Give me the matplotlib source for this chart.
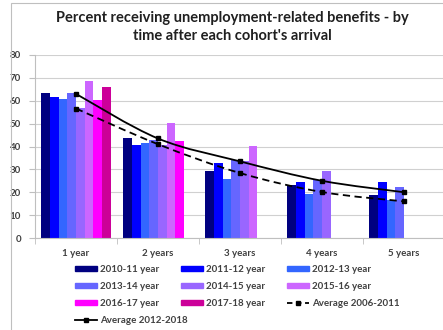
import numpy as np
import matplotlib
matplotlib.use('Agg')
import matplotlib.pyplot as plt
from matplotlib.path import Path
from matplotlib.patches import PathPatch
from matplotlib.lines import Line2D
from matplotlib.patches import Patch, Rectangle

plt.rcParams['font.family'] = ['Lato', 'DejaVu Sans']

categories = ['1 year', '2 years', '3 years', '4 years', '5 years']
cohorts = ['2010-11 year', '2011-12 year', '2012-13 year', '2013-14 year',
           '2014-15 year', '2015-16 year', '2016-17 year', '2017-18 year']
nan = np.nan
values = [
    [63.3, 43.7, 29.1, 23.0, 18.6],   # 2010-11
    [61.8, 40.7, 32.7, 24.5, 24.5],   # 2011-12
    [60.8, 41.5, 25.8, 19.2, 16.4],   # 2012-13
    [63.3, 43.0, 34.2, 25.5, 22.3],   # 2013-14
    [56.8, 40.5, 33.5, 29.4, nan],    # 2014-15
    [68.7, 50.2, 40.3, nan, nan],     # 2015-16
    [60.4, 42.4, nan, nan, nan],      # 2016-17
    [66.2, nan, nan, nan, nan],       # 2017-18
]
avg_2006_2011 = [56.6, 41.0, 28.4, 20.1, 16.0]
avg_2012_2018 = [63.0, 43.5, 33.5, 25.0, 20.0]
colors = ['#000080', '#0000FF', '#3366FF', '#6666FF',
          '#9966FF', '#CC66FF', '#FF00FF', '#CC0099']

text_col = '#404040'


def smooth_path(xs, ys):
    # Excel-style smoothed line: cubic bezier through the points
    pts = np.column_stack([xs, ys])
    n = len(pts)
    verts = [pts[0]]
    codes = [Path.MOVETO]
    for i in range(n - 1):
        p_prev = pts[i - 1] if i > 0 else pts[i]
        p_next2 = pts[i + 2] if i + 2 < n else pts[i + 1]
        c1 = pts[i] + (pts[i + 1] - p_prev) / 6
        c2 = pts[i + 1] - (p_next2 - pts[i]) / 6
        verts += [c1, c2, pts[i + 1]]
        codes += [Path.CURVE4] * 3
    return Path(verts, codes)


fig = plt.figure(figsize=(4.43, 3.30), dpi=100)
fig.patches.append(Rectangle((11 / 443, -0.1), 1.2, 327 / 330 + 0.1,
                             transform=fig.transFigure, fill=False,
                             edgecolor='#BFBFBF', lw=0.8))
ax = fig.add_axes([35 / 443, 92 / 330, 410 / 443, 183 / 330])

x = np.arange(len(categories))
n = len(cohorts)
w = 0.845 / n
for i, (name, vals) in enumerate(zip(cohorts, values)):
    ax.bar(x - 0.845 / 2 + w * (i + 0.5), vals, width=w, color=colors[i],
           label=name, zorder=2)

ax.add_patch(PathPatch(smooth_path(x, avg_2006_2011), fill=False,
                       edgecolor='black', lw=1.3, ls=(0, (4, 2.5)), zorder=3))
ax.plot(x, avg_2006_2011, ls='none', marker='s', ms=3, color='black', zorder=4)
ax.add_patch(PathPatch(smooth_path(x, avg_2012_2018), fill=False,
                       edgecolor='black', lw=1.3, zorder=3))
ax.plot(x, avg_2012_2018, ls='none', marker='s', ms=3, color='black', zorder=4)

ax.set_xlim(-0.5, 4.5)
ax.set_ylim(0, 80)
ax.set_yticks(range(0, 81, 10))
ax.set_xticks(x)
ax.set_xticklabels(categories)
ax.set_xticks(np.arange(-0.5, 5, 1), minor=True)
ax.tick_params(axis='x', which='major', length=0, pad=8, labelsize=7,
               labelcolor=text_col)
ax.tick_params(axis='x', which='minor', length=4, color='#BFBFBF')
ax.tick_params(axis='y', length=4, color='#BFBFBF', labelsize=7,
               labelcolor=text_col, pad=6)
for lab in ax.get_xticklabels() + ax.get_yticklabels():
    lab.set_fontweight('bold')
ax.grid(axis='y', color='#D0D0D0', lw=0.8, zorder=0)
ax.set_axisbelow(True)
for s in ['top', 'right']:
    ax.spines[s].set_visible(False)
ax.spines['left'].set_color('#BFBFBF')
ax.spines['bottom'].set_color('#BFBFBF')

fig.text(232 / 443, 1 - 27 / 330,
         "Percent receiving unemployment-related benefits - by\ntime after each cohort's arrival",
         ha='center', va='center', fontsize=10.5, fontweight='bold',
         color='#202020', linespacing=1.4)

# legend: Excel lays it out row by row in 3 equal columns,
# so build one matplotlib legend per column
bars = [Patch(color=c) for c in colors]
l06 = Line2D([], [], color='black', lw=1.3, ls=(0, (3, 2)), marker='s', ms=3)
l12 = Line2D([], [], color='black', lw=1.3, marker='s', ms=3)
columns = [
    ([bars[0], bars[3], bars[6], l12],
     [cohorts[0], cohorts[3], cohorts[6], 'Average 2012-2018']),
    ([bars[1], bars[4], bars[7]], [cohorts[1], cohorts[4], cohorts[7]]),
    ([bars[2], bars[5], l06], [cohorts[2], cohorts[5], 'Average 2006-2011']),
]
col_x = [75, 181, 287]
for (hs, ls), cx in zip(columns, col_x):
    leg = fig.legend(hs, ls, loc='upper left',
                     bbox_to_anchor=(cx / 443, 1 - 265 / 330), frameon=False,
                     fontsize=7, handlelength=2.3, handleheight=0.5,
                     handletextpad=0.3, labelspacing=0.82,
                     borderaxespad=0, borderpad=0)
    for t in leg.get_texts():
        t.set_fontweight('bold')
        t.set_color(text_col)

fig.savefig('out.png', dpi=100)
